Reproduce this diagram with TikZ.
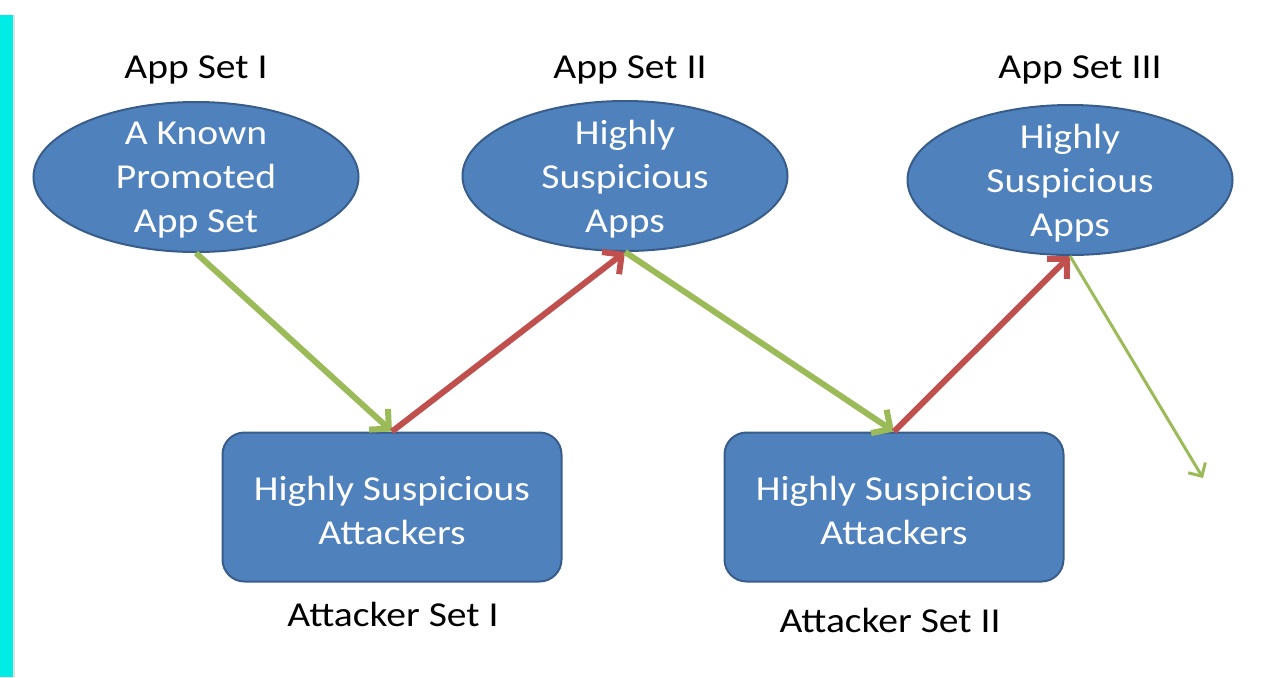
\documentclass[tikz,border=0pt]{standalone}
\usepackage{fontspec}
\setmainfont[FakeStretch=1.13]{Carlito}
\usetikzlibrary{shapes.geometric,arrows.meta}
\definecolor{setblue}{RGB}{79,129,189}
\definecolor{setedge}{RGB}{56,93,138}
\definecolor{linkgreen}{RGB}{155,187,89}
\definecolor{linkred}{RGB}{192,80,77}
\definecolor{barcyan}{RGB}{0,236,228}

\begin{document}
\begin{tikzpicture}[x=0.5pt, y=-0.5pt,
        >={Straight Barb[length=7pt,width=14pt]},
        appset/.style={ellipse, draw=setedge, line width=1pt, fill=setblue,
            minimum width=162.5pt, minimum height=75pt, inner sep=0pt},
        attset/.style={rectangle, rounded corners=11pt, draw=setedge, line width=1pt,
            fill=setblue, minimum width=169.5pt, minimum height=74.5pt, inner sep=0pt},
        intext/.style={text=white, align=center, inner sep=0pt, yshift=-1.5pt,
            font=\fontsize{17.5}{22}\selectfont},
        settitle/.style={font=\fontsize{17.5}{22}\selectfont},
        follow/.style={->, linkgreen, line width=3pt},
        promote/.style={->, linkred, line width=3pt}]
    \useasboundingbox (0,0) rectangle (1268,677);
    \fill[barcyan] (0,15) rectangle (14,677);
    \draw[gray!25, line width=0.6pt] (14,15) -- (14,677);

    % ===== app sets =====
    \node[appset] (a1) at (196,177) {};
    \node[intext] (a1t) at (a1) {A Known\\Promoted\\App Set};
    \node[settitle] (a1l) at (196,70) {App Set I};

    \node[appset] (a2) at (625,176) {};
    \node[intext] (a2t) at (a2) {Highly\\Suspicious\\Apps};
    \node[settitle] (a2l) at (630,70) {App Set II};

    \node[appset] (a3) at (1070,180) {};
    \node[intext] (a3t) at (a3) {Highly\\Suspicious\\Apps};
    \node[settitle] (a3l) at (1080,70) {App Set III};

    % ===== attacker sets =====
    \node[attset] (b1) at (392,507) {};
    \node[intext] (b1t) at (b1) {Highly Suspicious\\Attackers};
    \node[settitle] (b1l) at (393,614) {Attacker Set I};

    \node[attset] (b2) at (894,507) {};
    \node[intext] (b2t) at (b2) {Highly Suspicious\\Attackers};
    \node[settitle] (b2l) at (890,620) {Attacker Set II};

    % ===== links =====
    \draw[follow] (a1.south) -- (b1.north);
    \draw[promote] (b1.north) -- (a2.south);
    \draw[follow] (a2.south) -- (b2.north);
    \draw[promote] (b2.north) -- (a3.south);
    \coordinate (next) at (1203,478);
    \draw[follow, line width=1.5pt, -{Straight Barb[length=5pt,width=10pt]}] (a3.south) -- (next);
\end{tikzpicture}
\end{document}
